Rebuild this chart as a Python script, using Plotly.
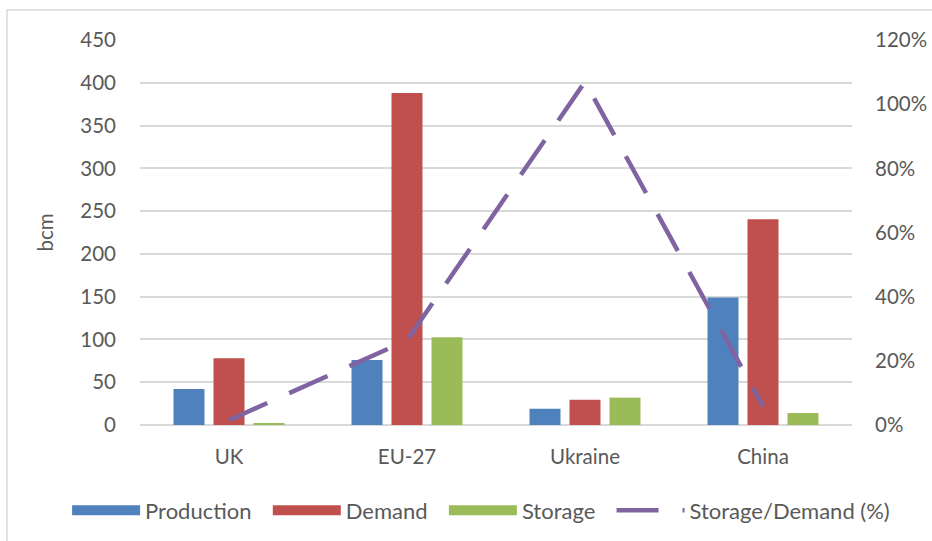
import plotly.graph_objects as go

categories = ["UK", "EU-27", "Ukraine", "China"]
production = [42, 76, 19, 149]
demand = [78, 388, 29.5, 240.5]
storage = [1.2, 102.5, 32, 14]
ratio_pct = [1.5, 26.4, 107, 5.8]

left_ticks = [0, 50, 100, 150, 200, 250, 300, 350, 400, 450]
right_ticks = [0, 20, 40, 60, 80, 100, 120]

C_PROD = "#4F81BD"
C_DEM = "#C0504D"
C_STO = "#9BBB59"
C_LINE = "#8064A2"
FONT = "Lato"
TXT = "#595959"
GRID = "#D9D9D9"
FS = 20.5
PAD = "\u00a0\u00a0"

fig = go.Figure()
for name, vals, col in [("Production", production, C_PROD),
                        ("Demand", demand, C_DEM),
                        ("Storage", storage, C_STO)]:
    fig.add_trace(go.Bar(x=categories, y=vals, name=name, marker_color=col,
                         marker_line_width=0, showlegend=False, yaxis="y"))
    # legend swatch
    fig.add_trace(go.Scatter(x=[None], y=[None], mode="lines", name=name + PAD,
                             line=dict(color=col, width=14), yaxis="y"))

fig.add_trace(go.Scatter(x=categories, y=ratio_pct, name="Storage/Demand (%)",
                         mode="lines", yaxis="y2",
                         line=dict(color=C_LINE, width=4.5, dash="42px,24px")))

fig.update_layout(
    width=932, height=541,
    margin=dict(l=140, r=80, t=40, b=116, autoexpand=False),
    paper_bgcolor="white", plot_bgcolor="white",
    font=dict(family=FONT, size=FS, color=TXT),
    barmode="group", bargap=0.326, bargroupgap=0.225,
    xaxis=dict(showgrid=False, showline=False, ticks="", tickfont=dict(size=FS),
               ticklabelstandoff=17, automargin=False),
    yaxis=dict(range=[0, 450], tickvals=left_ticks, showgrid=True, gridcolor=GRID,
               gridwidth=1.5, zeroline=True, zerolinecolor=GRID, zerolinewidth=1.5,
               showline=False, ticks="", ticklabelstandoff=23, automargin=False,
               title=dict(text="bcm", standoff=21, font=dict(size=FS))),
    yaxis2=dict(range=[0, 120], tickvals=right_ticks,
                ticktext=[f"{v}%" for v in right_ticks],
                overlaying="y", side="right", showgrid=False, zeroline=False,
                showline=False, ticks="", ticklabelstandoff=22, automargin=False),
    legend=dict(orientation="h", x=-0.1024, xanchor="left", y=-0.222, yanchor="middle",
                itemwidth=68, font=dict(size=22), itemclick=False,
                traceorder="normal", tracegroupgap=0),
    shapes=[dict(type="rect", xref="paper", yref="paper",
                 x0=-0.1868, x1=1.2, y0=-0.4, y1=1.0779,
                 line=dict(color=GRID, width=1.5), fillcolor="rgba(0,0,0,0)",
                 layer="below")],
)

fig.write_html("out.html", config={"displayModeBar": False},
               post_script="document.body.style.margin='0';"
                           "document.body.style.overflow='hidden';")
